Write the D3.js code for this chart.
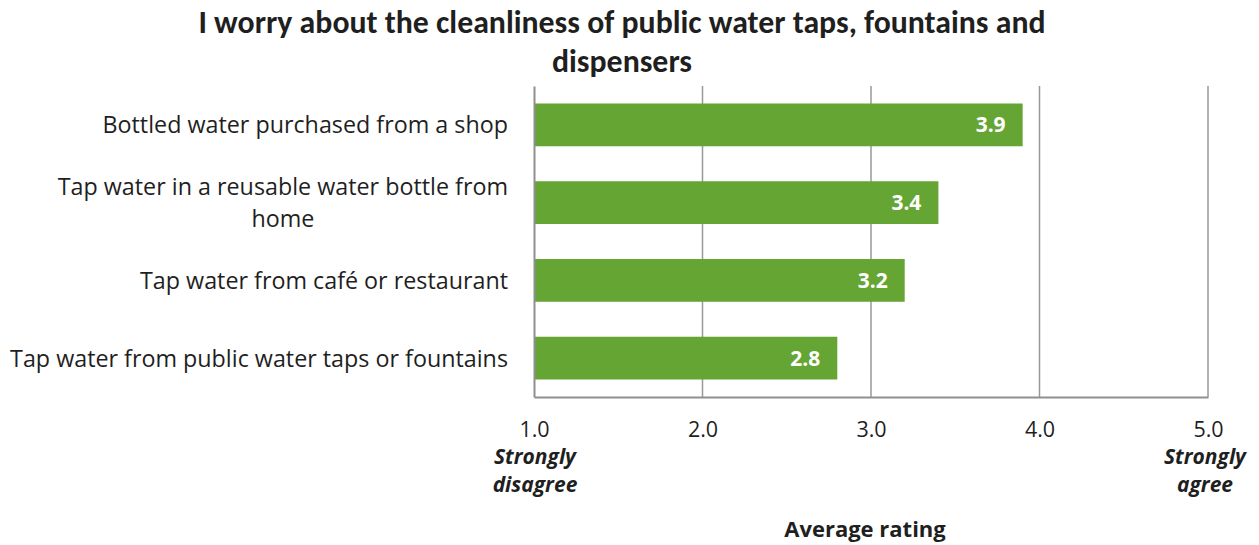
<!DOCTYPE html>
<html>
<head>
<meta charset="utf-8">
<script src="https://cdn.jsdelivr.net/npm/d3@7"></script>
<style>
  html, body { margin: 0; padding: 0; background: #ffffff; }
  svg { display: block; }
</style>
</head>
<body>
<svg id="chart" width="1259" height="545"></svg>
<script>
// Survey item: average agreement rating per water source
const titleLines = ["I worry about the cleanliness of public water taps, fountains and", "dispensers"];
const categories = [
  ["Bottled water purchased from a shop"],
  ["Tap water in a reusable water bottle from", "home"],
  ["Tap water from café or restaurant"],
  ["Tap water from public water taps or fountains"]
];
const ratings = [3.9, 3.4, 3.2, 2.8];
const tickValues = [1, 2, 3, 4, 5];
const scaleEnds = [
  { value: 1, lines: ["Strongly", "disagree"] },
  { value: 5, lines: ["Strongly", "agree"] }
];
const axisTitle = "Average rating";

const sans = "'Open Sans', 'Segoe UI', sans-serif";
const titleFont = "Carlito, Calibri, Lato, sans-serif";
const barColor = "#65a533";
const gridColor = "#999999";
const textColor = "#1f1f1f";

const svg = d3.select("#chart");
const plot = { left: 534, right: 1208, top: 86, bottom: 397 };

const x = d3.scaleLinear().domain([1, 5]).range([plot.left, plot.right]);
const keys = categories.map(c => c.join(" "));
const y = d3.scaleBand().domain(keys).range([plot.top, plot.bottom])
  .paddingInner(0.45).paddingOuter(0.225);

// Title
svg.append("g").selectAll("text").data(titleLines).join("text")
  .attr("x", 622).attr("y", (d, i) => 33 + i * 39)
  .attr("text-anchor", "middle")
  .style("font-family", titleFont).style("font-weight", 700)
  .style("font-size", "31.8px").style("fill", textColor)
  .text(d => d);

// Vertical gridlines
svg.append("g").selectAll("line").data(tickValues.slice(1)).join("line")
  .attr("x1", d => x(d)).attr("x2", d => x(d))
  .attr("y1", plot.top).attr("y2", plot.bottom)
  .attr("stroke", gridColor).attr("stroke-width", 1.5);

// Bars
svg.append("g").selectAll("rect").data(ratings).join("rect")
  .attr("x", x(1))
  .attr("y", (d, i) => y(keys[i]))
  .attr("width", d => x(d) - x(1))
  .attr("height", y.bandwidth())
  .attr("fill", barColor);

// Value labels inside bar ends
svg.append("g").selectAll("text").data(ratings).join("text")
  .attr("x", d => x(d) - 17)
  .attr("y", (d, i) => y(keys[i]) + y.bandwidth() / 2)
  .attr("dy", "0.36em")
  .attr("text-anchor", "end")
  .style("font-family", sans).style("font-weight", 700)
  .style("font-size", "21px").style("fill", "#ffffff")
  .text(d => d3.format(".1f")(d));

// Bottom axis
const xAxis = d3.axisBottom(x).tickValues(tickValues)
  .tickFormat(d3.format(".1f")).tickSize(0).tickPadding(25);
const gx = svg.append("g").attr("transform", `translate(0,${plot.bottom})`).call(xAxis);
gx.select(".domain").attr("stroke", "#8f8f8f").attr("stroke-width", 2);
gx.selectAll(".tick text")
  .style("font-family", sans).style("font-size", "21.5px").style("fill", textColor);

// Left axis line
const gy = svg.append("g").attr("transform", `translate(${plot.left},0)`)
  .call(d3.axisLeft(y).tickSize(0).tickFormat(""));
gy.select(".domain").attr("stroke", "#8f8f8f").attr("stroke-width", 2);

// Category labels: right-aligned block, lines centred within the block
const catG = svg.append("g");
categories.forEach((lines, i) => {
  const cy = y(keys[i]) + y.bandwidth() / 2;
  const lh = 32;
  const g = catG.append("g");
  const texts = g.selectAll("text").data(lines).join("text")
    .attr("y", (d, j) => cy + (j - (lines.length - 1) / 2) * lh)
    .attr("dy", "0.36em")
    .attr("text-anchor", "middle")
    .style("font-family", sans).style("font-size", "23.3px").style("fill", textColor)
    .text(d => d);
  let maxW = 0;
  texts.each(function () { maxW = Math.max(maxW, this.getComputedTextLength()); });
  texts.attr("x", 508 - maxW / 2);
});

// Scale end descriptors
const endShift = { 1: 1, 5: -3 };
scaleEnds.forEach(e => {
  svg.append("g").selectAll("text").data(e.lines).join("text")
    .attr("x", x(e.value) + endShift[e.value])
    .attr("y", (d, j) => 464 + j * 28)
    .attr("text-anchor", "middle")
    .style("font-family", sans).style("font-weight", 700).style("font-style", "italic")
    .style("font-size", "21px").style("fill", textColor)
    .text(d => d);
});

// Axis title
svg.append("text")
  .attr("x", 865).attr("y", 537)
  .attr("text-anchor", "middle")
  .style("font-family", sans).style("font-weight", 700)
  .style("font-size", "22px").style("fill", textColor)
  .text(axisTitle);
</script>
</body>
</html>
